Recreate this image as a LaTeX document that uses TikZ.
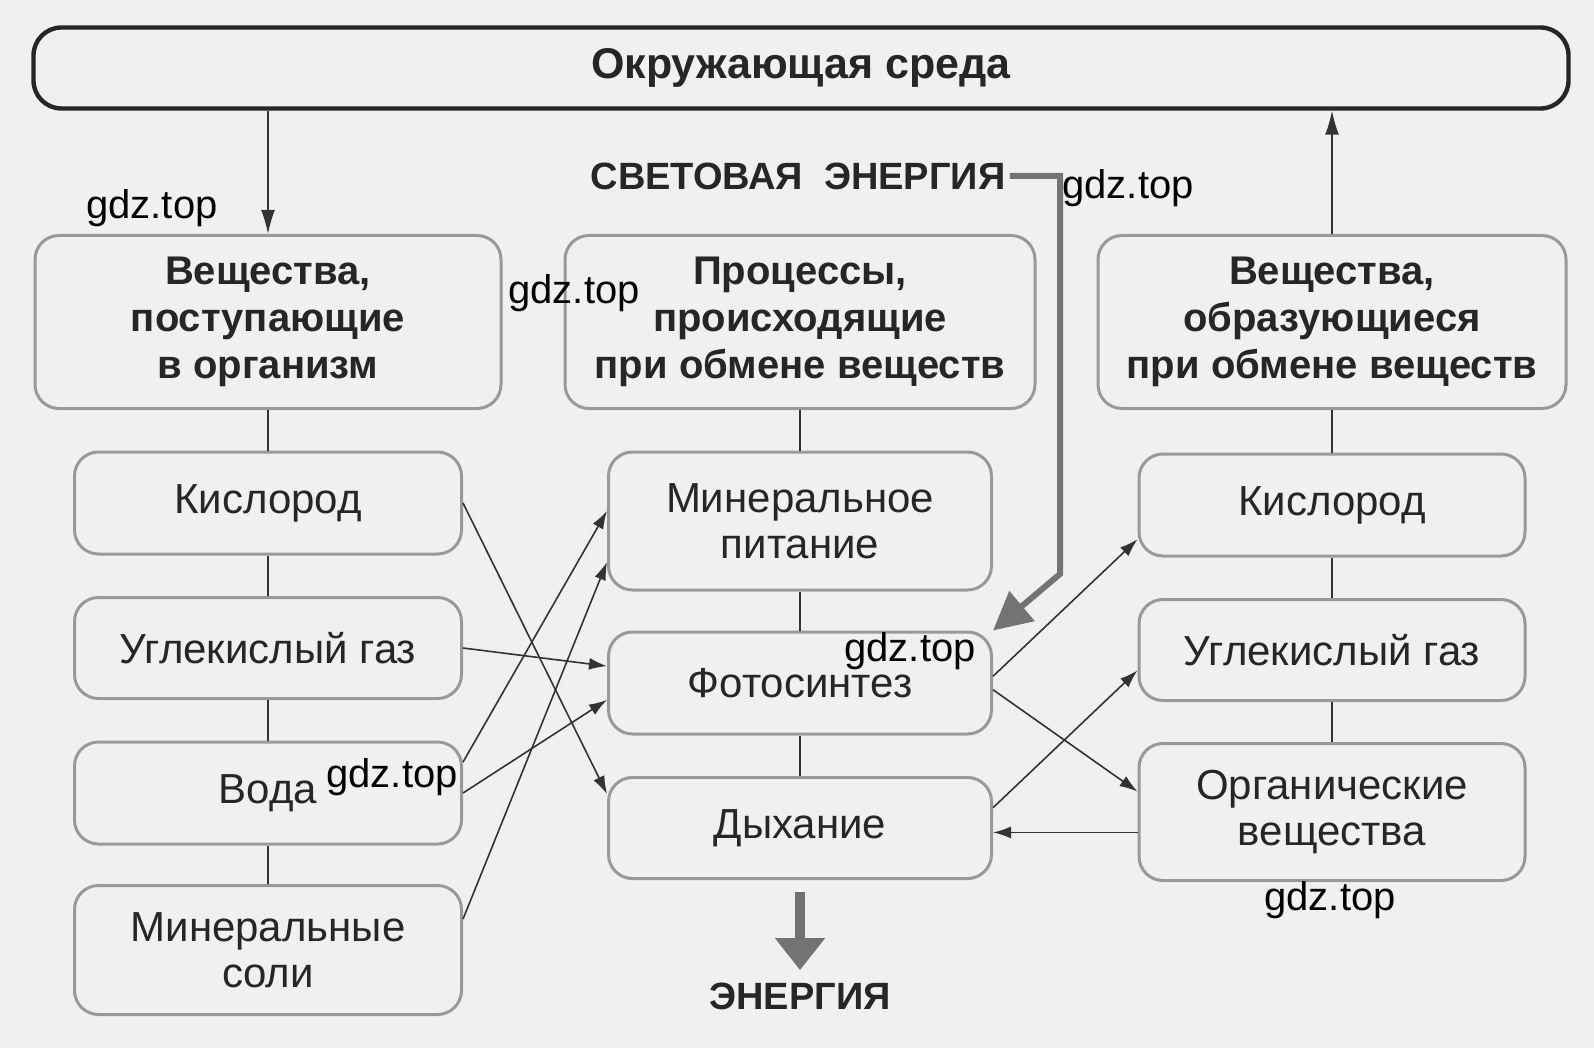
\documentclass[tikz,border=0pt]{standalone}
\usepackage{fontspec}
\setmainfont{Liberation Sans}
\usetikzlibrary{arrows.meta}

\begin{document}
\begin{tikzpicture}[x=0.5pt, y=-0.5pt,
      every node/.style = {align=center, text=black!85,
        font=\fontsize{21}{23}\selectfont},
      box/.style = {shape=rectangle, rounded corners=12pt,
        draw=black!40, line width=1.5pt},
      headbox/.style = {box, minimum height=86.5pt,
        font=\fontsize{20}{23.4}\selectfont\bfseries},
      topbox/.style = {shape=rectangle, rounded corners=14pt, draw=black!85,
        line width=2.2pt, minimum width=767.5pt, minimum height=40.5pt,
        font=\fontsize{21.5}{24}\selectfont\bfseries},
      bold/.style = {font=\fontsize{19}{24}\selectfont\bfseries, inner sep=2pt},
      wmark/.style = {text=black, font=\fontsize{20}{24}\selectfont},
      link/.style = {draw=black!80, line width=0.8pt},
      arr/.style = {link, -{Latex[length=9pt, width=6pt]}},
      bigarr/.style = {draw=black!55, line width=3pt,
        -{Triangle[length=19pt, width=19pt]}}]
  \fill[black!6] (0,0) rectangle (1594,1048);
  \useasboundingbox (0,0) rectangle (1594,1048);

  \node[topbox] (env) at (801,68) {Окружающая среда};
  \node[bold] (light) at (798,176) {СВЕТОВАЯ\ \ ЭНЕРГИЯ};

  % headers
  \node[headbox, minimum width=233pt] (in) at (268,322)
    {Вещества,\\поступающие\\в организм};
  \node[headbox, minimum width=235pt] (proc) at (800,322)
    {Процессы,\\происходящие\\при обмене веществ};
  \node[headbox, minimum width=234pt] (out) at (1332,322)
    {Вещества,\\образующиеся\\при обмене веществ};

  % left column
  \node[box, minimum width=193.5pt, minimum height=51pt] (o2in) at (268,503) {Кислород};
  \node[box, minimum width=193.5pt, minimum height=50.5pt] (co2in) at (268,648) {Углекислый газ};
  \node[box, minimum width=193.5pt, minimum height=51pt] (water) at (268,793) {Вода};
  \node[box, minimum width=193.5pt, minimum height=64.5pt] (salt) at (268,950)
    {Минеральные\\соли};

  % middle column
  \node[box, minimum width=191.5pt, minimum height=69pt] (mineral) at (800,521)
    {Минеральное\\питание};
  \node[box, minimum width=191.5pt, minimum height=51pt] (photo) at (800,683) {Фотосинтез};
  \node[box, minimum width=191.5pt, minimum height=50.5pt] (resp) at (800,828) {Дыхание};
  \node[bold] (energy) at (800,996) {ЭНЕРГИЯ};

  % right column
  \node[box, minimum width=193pt, minimum height=51pt] (o2out) at (1332,505) {Кислород};
  \node[box, minimum width=193pt, minimum height=50.5pt] (co2out) at (1332,650) {Углекислый газ};
  \node[box, minimum width=193pt, minimum height=68.5pt] (org) at (1332,812)
    {Органические\\вещества};

  % columns
  \draw[link, -{Latex[length=12pt, width=7pt]}] (env.south -| in.north) -- (in.north);
  \draw[link, -{Latex[length=12pt, width=7pt]}] (out.north) -- (out.north |- env.south);
  \draw[link] (in) -- (o2in) (o2in) -- (co2in) (co2in) -- (water) (water) -- (salt);
  \draw[link] (proc) -- (mineral) (mineral) -- (photo) (photo) -- (resp);
  \draw[link] (out) -- (o2out) (o2out) -- (co2out) (co2out) -- (org);

  % exchange
  \draw[arr] (o2in.east) -- (resp.170);
  \draw[arr] (co2in.east) -- (photo.175);
  \draw[arr] (water.9) -- (mineral.177);
  \draw[arr] (water.east) -- (photo.185);
  \draw[arr] (salt.9) -- (mineral.192);
  \draw[arr] (photo.2) -- (o2out.190);
  \draw[arr] (photo.-2) -- (org.174);
  \draw[arr] (resp.6) -- (co2out.186);
  \draw[arr] (org.186) -- (org.186 -| resp.east);

  % energy
  \coordinate (kink) at (1060,574);
  \draw[bigarr] (light.east) -- (light.east -| kink) -- (kink) -- (photo.north east);
  \draw[bigarr, line width=5pt, -{Triangle[length=16pt, width=24pt]},
    shorten <=6pt, shorten >=4pt] (resp.south) -- (energy.north);

  % watermarks
  \node[wmark] (wm1) at (152,208) {gdz.top};
  \node[wmark] (wm2) at (574,293) {gdz.top};
  \node[wmark] (wm3) at (1128,188) {gdz.top};
  \node[wmark] (wm4) at (910,651) {gdz.top};
  \node[wmark] (wm5) at (392,777) {gdz.top};
  \node[wmark] (wm6) at (1330,900) {gdz.top};
\end{tikzpicture}
\end{document}
